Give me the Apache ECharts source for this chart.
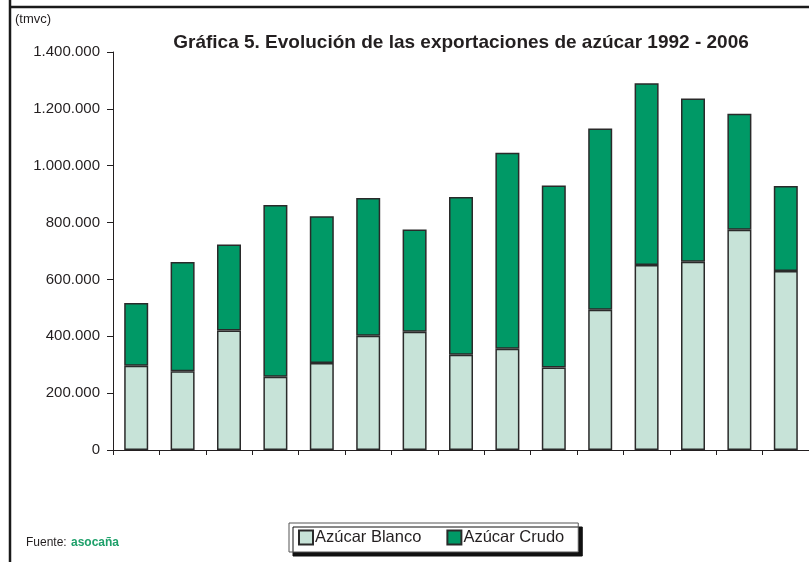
<!DOCTYPE html>
<html>
<head>
<meta charset="utf-8">
<script src="https://cdn.jsdelivr.net/npm/echarts@6/dist/echarts.min.js"></script>
<style>
  html, body { margin: 0; padding: 0; background: #fff; }
  #main { width: 809px; height: 562px; }
</style>
</head>
<body>
<div id="main"></div>
<script>
var years = ['1992', '1993', '1994', '1995', '1996', '1997', '1998', '1999',
  '2000', '2001', '2002', '2003', '2004', '2005', '2006'];
// toneladas métricas valor crudo
var blanco = [296000, 277000, 420000, 258000, 306000, 402000, 416000, 335000,
  356000, 290000, 493000, 651000, 662000, 775000, 630000];
var totales = [517000, 661000, 723000, 862000, 822000, 886000, 776000, 890000,
  1046000, 930000, 1131000, 1290000, 1236000, 1183000, 929000];
var crudo = totales.map(function (t, i) { return t - blanco[i]; });
var yTicks = [0, 200000, 400000, 600000, 800000, 1000000, 1200000, 1400000];

var chart = echarts.init(document.getElementById('main'));

function fmt(v) {
  return String(v).replace(/\B(?=(\d{3})+(?!\d))/g, '.');
}

var option = {
  backgroundColor: '#ffffff',
  animation: false,
  title: {
    text: 'Gráfica 5. Evolución de las exportaciones de azúcar 1992 - 2006',
    left: 456,
    textAlign: 'center',
    top: 28,
    textStyle: {
      fontFamily: 'Liberation Sans, Arial',
      fontSize: 19,
      fontWeight: 'bold',
      color: '#231f20'
    }
  },
  grid: {
    left: 113,
    top: 52,
    width: 700,
    height: 398
  },
  legend: {
    data: ['Azúcar Blanco', 'Azúcar Crudo'],
    left: 289,
    top: 523,
    padding: [6, 14, 6, 9],
    itemWidth: 14,
    itemHeight: 14,
    itemGap: 25,
    icon: 'rect',
    backgroundColor: '#ffffff',
    borderColor: '#555',
    borderWidth: 1,
    shadowColor: '#111',
    shadowBlur: 0,
    shadowOffsetX: 4,
    shadowOffsetY: 4,
    textStyle: {
      fontFamily: 'Liberation Sans, Arial',
      fontSize: 16.5,
      color: '#231f20',
      padding: [0, 0, 0, -3]
    }
  },
  xAxis: {
    type: 'category',
    data: years,
    axisLine: { lineStyle: { color: '#231f20', width: 1 } },
    axisTick: { show: true, length: 5, lineStyle: { color: '#231f20' } },
    axisLabel: { show: false }
  },
  yAxis: {
    type: 'value',
    min: yTicks[0],
    max: yTicks[yTicks.length - 1],
    interval: 200000,
    splitLine: { show: false },
    axisLine: { show: true, lineStyle: { color: '#231f20', width: 1 } },
    axisTick: { show: true, length: 6, lineStyle: { color: '#231f20' } },
    axisLabel: {
      margin: 13,
      fontFamily: 'Liberation Sans, Arial',
      fontSize: 15,
      color: '#231f20',
      formatter: fmt
    }
  },
  series: [
    {
      name: 'Azúcar Blanco',
      type: 'bar',
      stack: 'total',
      barWidth: 24,
      data: blanco,
      itemStyle: { color: '#c7e3d8', borderColor: '#2a2a2a', borderWidth: 1.5 }
    },
    {
      name: 'Azúcar Crudo',
      type: 'bar',
      stack: 'total',
      barWidth: 24,
      data: crudo,
      itemStyle: { color: '#009966', borderColor: '#2a2a2a', borderWidth: 1.5 }
    }
  ],
  graphic: [
    { type: 'line', shape: { x1: 10, y1: 0, x2: 10, y2: 562 }, style: { stroke: '#1a1a1a', lineWidth: 2.5 } },
    { type: 'line', shape: { x1: 9, y1: 7, x2: 809, y2: 7 }, style: { stroke: '#1a1a1a', lineWidth: 2.5 } },
    { type: 'text', left: 15, top: 13, style: { text: '(tmvc)', font: '13px Liberation Sans, Arial', fill: '#231f20' } },
    { type: 'text', left: 26, top: 537, style: { text: 'Fuente:', font: '12px Liberation Sans, Arial', fill: '#231f20' } },
    { type: 'text', left: 71, top: 537, style: { text: 'asocaña', font: 'bold 12px Liberation Sans, Arial', fill: '#1ea06a' } }
  ]
};

chart.setOption(option);
</script>
</body>
</html>
